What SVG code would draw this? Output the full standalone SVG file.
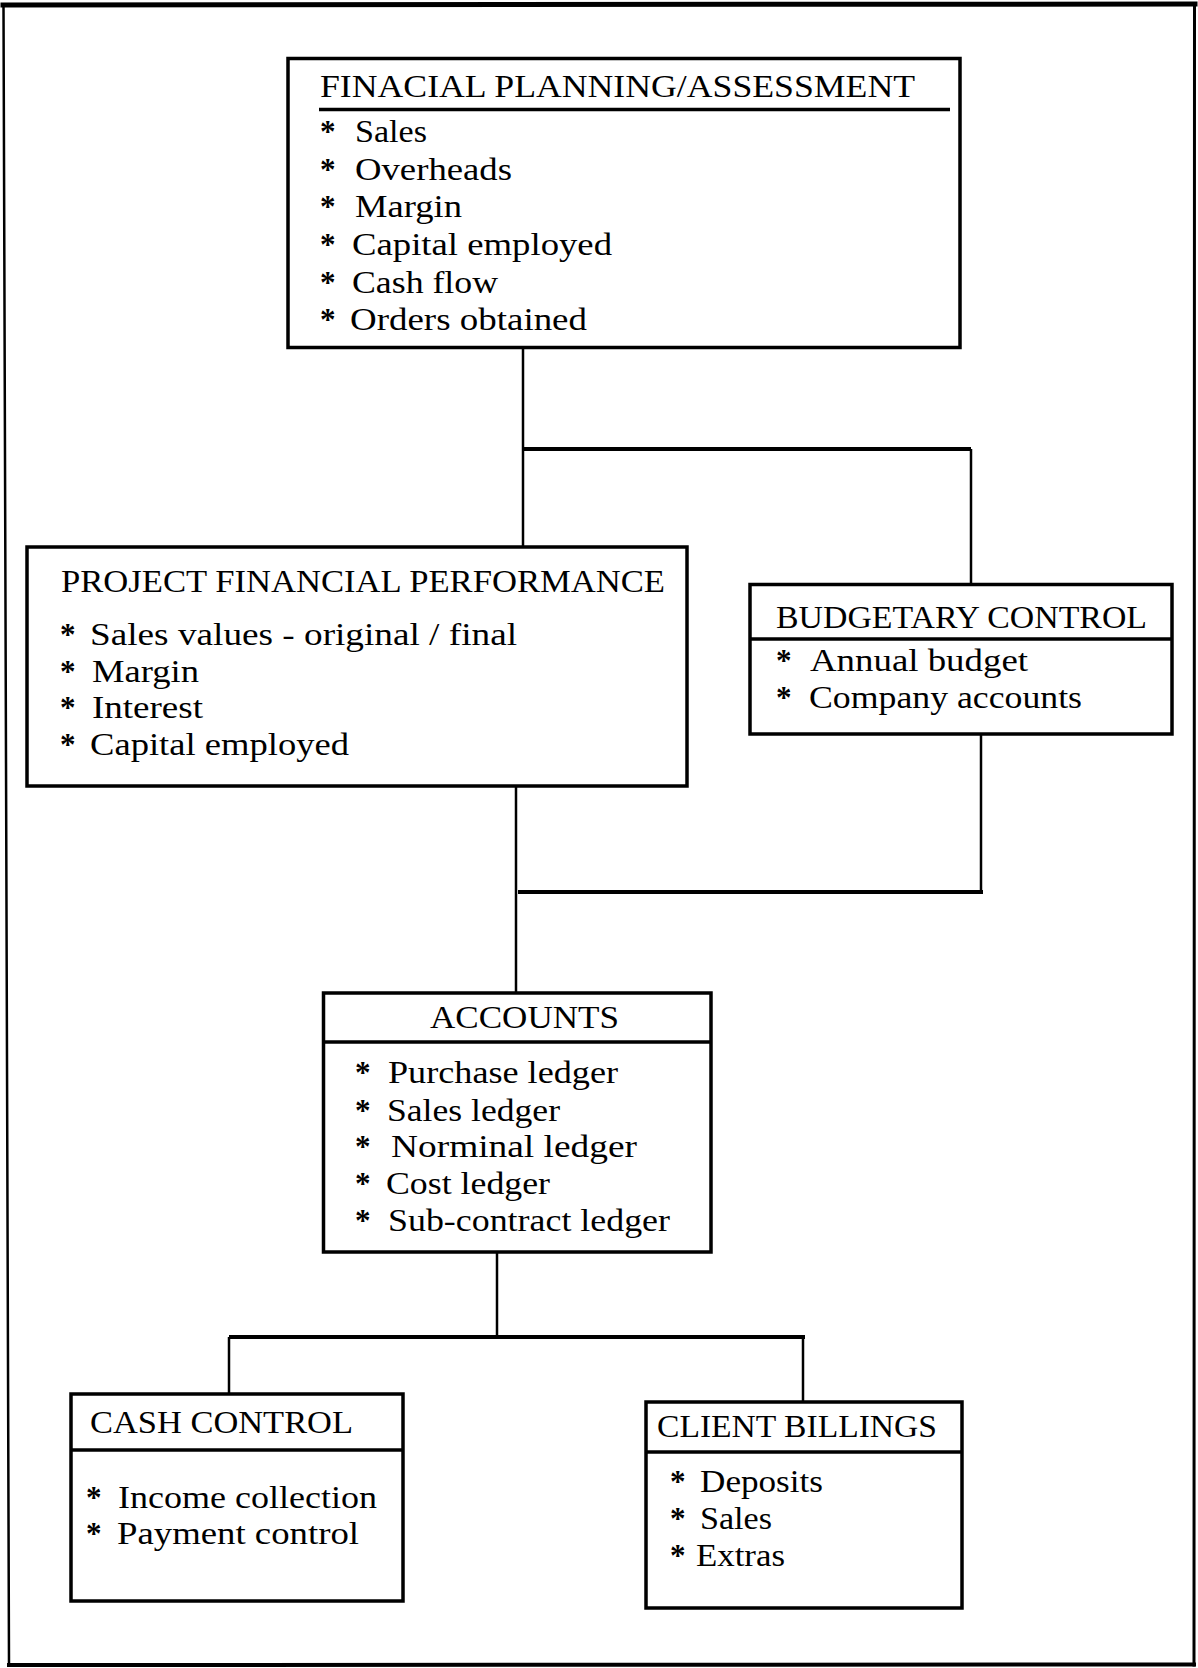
<svg xmlns="http://www.w3.org/2000/svg" width="1198" height="1668" viewBox="0 0 1198 1668">
  <style>
    text { font-family: "Liberation Serif", "Times New Roman", serif; font-size: 31px; fill: #000; }
    .star { font-weight: bold; }
    .box { fill: #fff; stroke: #000; stroke-width: 3.5; }
    .sep { stroke: #000; stroke-width: 3.5; fill: none; }
    .v { stroke: #000; stroke-width: 2.5; fill: none; }
    .h { stroke: #000; stroke-width: 4; fill: none; }
    .frame { stroke: #000; fill: none; stroke-linecap: square; }
  </style>

  <rect x="0" y="0" width="1198" height="1668" fill="#fff"/>

  <!-- page frame -->
  <g id="frame">
    <line class="frame" x1="3" y1="5" x2="1195" y2="4" stroke-width="5"/>
    <line class="frame" x1="1194.5" y1="4" x2="1194" y2="1665" stroke-width="3"/>
    <line class="frame" x1="9" y1="1665" x2="1194" y2="1664.5" stroke-width="4"/>
    <line class="frame" x1="3.5" y1="5" x2="9" y2="1665" stroke-width="2.5"/>
  </g>

  <!-- connectors -->
  <g id="connectors">
    <line class="v" x1="523" y1="347.5" x2="523" y2="547"/>
    <line class="h" x1="523" y1="449" x2="971" y2="449"/>
    <line class="v" x1="971" y1="449" x2="971" y2="584.5"/>
    <line class="v" x1="516" y1="786" x2="516" y2="993"/>
    <line class="v" x1="981" y1="734" x2="981" y2="892"/>
    <line class="h" x1="518" y1="892" x2="983" y2="892"/>
    <line class="v" x1="497" y1="1252" x2="497" y2="1337"/>
    <line class="h" x1="229" y1="1337" x2="805" y2="1337"/>
    <line class="v" x1="229" y1="1337" x2="229" y2="1394"/>
    <line class="v" x1="803" y1="1337" x2="803" y2="1402"/>
  </g>

  <g id="financial-planning">
    <rect class="box" x="288" y="58.5" width="672" height="289"/>
    <line class="sep" x1="319" y1="109.5" x2="950" y2="109.5"/>
    <text x="320" y="97" textLength="595" lengthAdjust="spacingAndGlyphs">FINACIAL PLANNING/ASSESSMENT</text>
    <text class="star" x="320" y="142">*</text>
    <text x="355" y="142" textLength="72" lengthAdjust="spacingAndGlyphs">Sales</text>
    <text class="star" x="320" y="180">*</text>
    <text x="355" y="180" textLength="157" lengthAdjust="spacingAndGlyphs">Overheads</text>
    <text class="star" x="320" y="217">*</text>
    <text x="355" y="217" textLength="107" lengthAdjust="spacingAndGlyphs">Margin</text>
    <text class="star" x="320" y="255">*</text>
    <text x="352" y="255" textLength="260" lengthAdjust="spacingAndGlyphs">Capital employed</text>
    <text class="star" x="320" y="293">*</text>
    <text x="352" y="293" textLength="146" lengthAdjust="spacingAndGlyphs">Cash flow</text>
    <text class="star" x="320" y="330">*</text>
    <text x="350" y="330" textLength="237" lengthAdjust="spacingAndGlyphs">Orders obtained</text>
  </g>

  <g id="project-performance">
    <rect class="box" x="27" y="547" width="660" height="239"/>
    <text x="61" y="592" textLength="604" lengthAdjust="spacingAndGlyphs">PROJECT FINANCIAL PERFORMANCE</text>
    <text class="star" x="60" y="645">*</text>
    <text x="90" y="645" textLength="427" lengthAdjust="spacingAndGlyphs">Sales values - original / final</text>
    <text class="star" x="60" y="682">*</text>
    <text x="92" y="682" textLength="107" lengthAdjust="spacingAndGlyphs">Margin</text>
    <text class="star" x="60" y="718">*</text>
    <text x="92" y="718" textLength="111" lengthAdjust="spacingAndGlyphs">Interest</text>
    <text class="star" x="60" y="755">*</text>
    <text x="90" y="755" textLength="259" lengthAdjust="spacingAndGlyphs">Capital employed</text>
  </g>

  <g id="budgetary-control">
    <rect class="box" x="750" y="584.5" width="422" height="149.5"/>
    <line class="sep" x1="750" y1="639" x2="1172" y2="639"/>
    <text x="776" y="628" textLength="371" lengthAdjust="spacingAndGlyphs">BUDGETARY CONTROL</text>
    <text class="star" x="776" y="671">*</text>
    <text x="810" y="671" textLength="218" lengthAdjust="spacingAndGlyphs">Annual budget</text>
    <text class="star" x="776" y="708">*</text>
    <text x="809" y="708" textLength="273" lengthAdjust="spacingAndGlyphs">Company accounts</text>
  </g>

  <g id="accounts">
    <rect class="box" x="323.5" y="993" width="387.5" height="259"/>
    <line class="sep" x1="323.5" y1="1042" x2="711" y2="1042"/>
    <text x="430" y="1028" textLength="189" lengthAdjust="spacingAndGlyphs">ACCOUNTS</text>
    <text class="star" x="355" y="1083">*</text>
    <text x="388" y="1083" textLength="230" lengthAdjust="spacingAndGlyphs">Purchase ledger</text>
    <text class="star" x="355" y="1121">*</text>
    <text x="387" y="1121" textLength="173" lengthAdjust="spacingAndGlyphs">Sales ledger</text>
    <text class="star" x="355" y="1157">*</text>
    <text x="391" y="1157" textLength="246" lengthAdjust="spacingAndGlyphs">Norminal ledger</text>
    <text class="star" x="355" y="1194">*</text>
    <text x="386" y="1194" textLength="164" lengthAdjust="spacingAndGlyphs">Cost ledger</text>
    <text class="star" x="355" y="1231">*</text>
    <text x="388" y="1231" textLength="282" lengthAdjust="spacingAndGlyphs">Sub-contract ledger</text>
  </g>

  <g id="cash-control">
    <rect class="box" x="71" y="1394" width="332" height="207"/>
    <line class="sep" x1="71" y1="1450" x2="403" y2="1450"/>
    <text x="90" y="1433" textLength="263" lengthAdjust="spacingAndGlyphs">CASH CONTROL</text>
    <text class="star" x="86" y="1508">*</text>
    <text x="118" y="1508" textLength="259" lengthAdjust="spacingAndGlyphs">Income collection</text>
    <text class="star" x="86" y="1544">*</text>
    <text x="117" y="1544" textLength="242" lengthAdjust="spacingAndGlyphs">Payment control</text>
  </g>

  <g id="client-billings">
    <rect class="box" x="646" y="1402" width="316" height="206"/>
    <line class="sep" x1="646" y1="1452" x2="962" y2="1452"/>
    <text x="657" y="1437" textLength="280" lengthAdjust="spacingAndGlyphs">CLIENT BILLINGS</text>
    <text class="star" x="670" y="1492">*</text>
    <text x="700" y="1492" textLength="123" lengthAdjust="spacingAndGlyphs">Deposits</text>
    <text class="star" x="670" y="1529">*</text>
    <text x="700" y="1529" textLength="72" lengthAdjust="spacingAndGlyphs">Sales</text>
    <text class="star" x="670" y="1566">*</text>
    <text x="696" y="1566" textLength="89" lengthAdjust="spacingAndGlyphs">Extras</text>
  </g>
</svg>
